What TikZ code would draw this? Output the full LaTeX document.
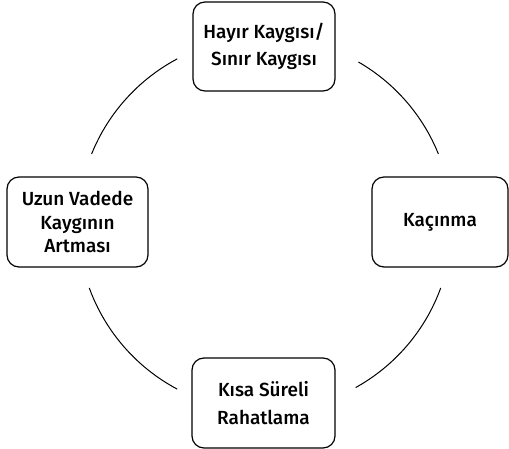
\documentclass[tikz,border=0pt]{standalone}
\usepackage{fontspec}
\setmainfont{Fira Sans Medium}
\begin{document}
\begin{tikzpicture}[x=1pt, y=1pt,
    stagebox/.style={draw, line width=1.2pt, rounded corners=12pt, align=center,
        inner sep=0pt, font=\fontsize{19}{27.5}\selectfont},
    cycleline/.style={line width=1pt}]
    \useasboundingbox (0,0) rectangle (509,-449);
    % ===== stages =====
    \node[stagebox, minimum width=142, minimum height=89] (worry) at (264,-46.5)
        {Hayır Kaygısı/\\Sınır Kaygısı};
    \node[stagebox, minimum width=136, minimum height=90] (avoid) at (440,-222)
        {Kaçınma};
    \node[stagebox, minimum width=143, minimum height=90] (relief) at (263.5,-403)
        {Kısa Süreli\\Rahatlama};
    \node[stagebox, minimum width=141, minimum height=90,
        font=\fontsize{19}{23.5}\selectfont] (rise) at (77.5,-222)
        {Uzun Vadede\\Kaygının\\Artması};

    % ===== circle arcs between the stages =====
    \def\rC{187}
    \coordinate (c) at (265,-224);
    \draw[cycleline] ([shift={(60:\rC)}]c) arc[start angle=60, end angle=22, radius=\rC];
    \draw[cycleline] ([shift={(-20:\rC)}]c) arc[start angle=-20, end angle=-61, radius=\rC];
    \draw[cycleline] ([shift={(-118:\rC)}]c) arc[start angle=-118, end angle=-160, radius=\rC];
    \draw[cycleline] ([shift={(158:\rC)}]c) arc[start angle=158, end angle=118, radius=\rC];
\end{tikzpicture}
\end{document}
